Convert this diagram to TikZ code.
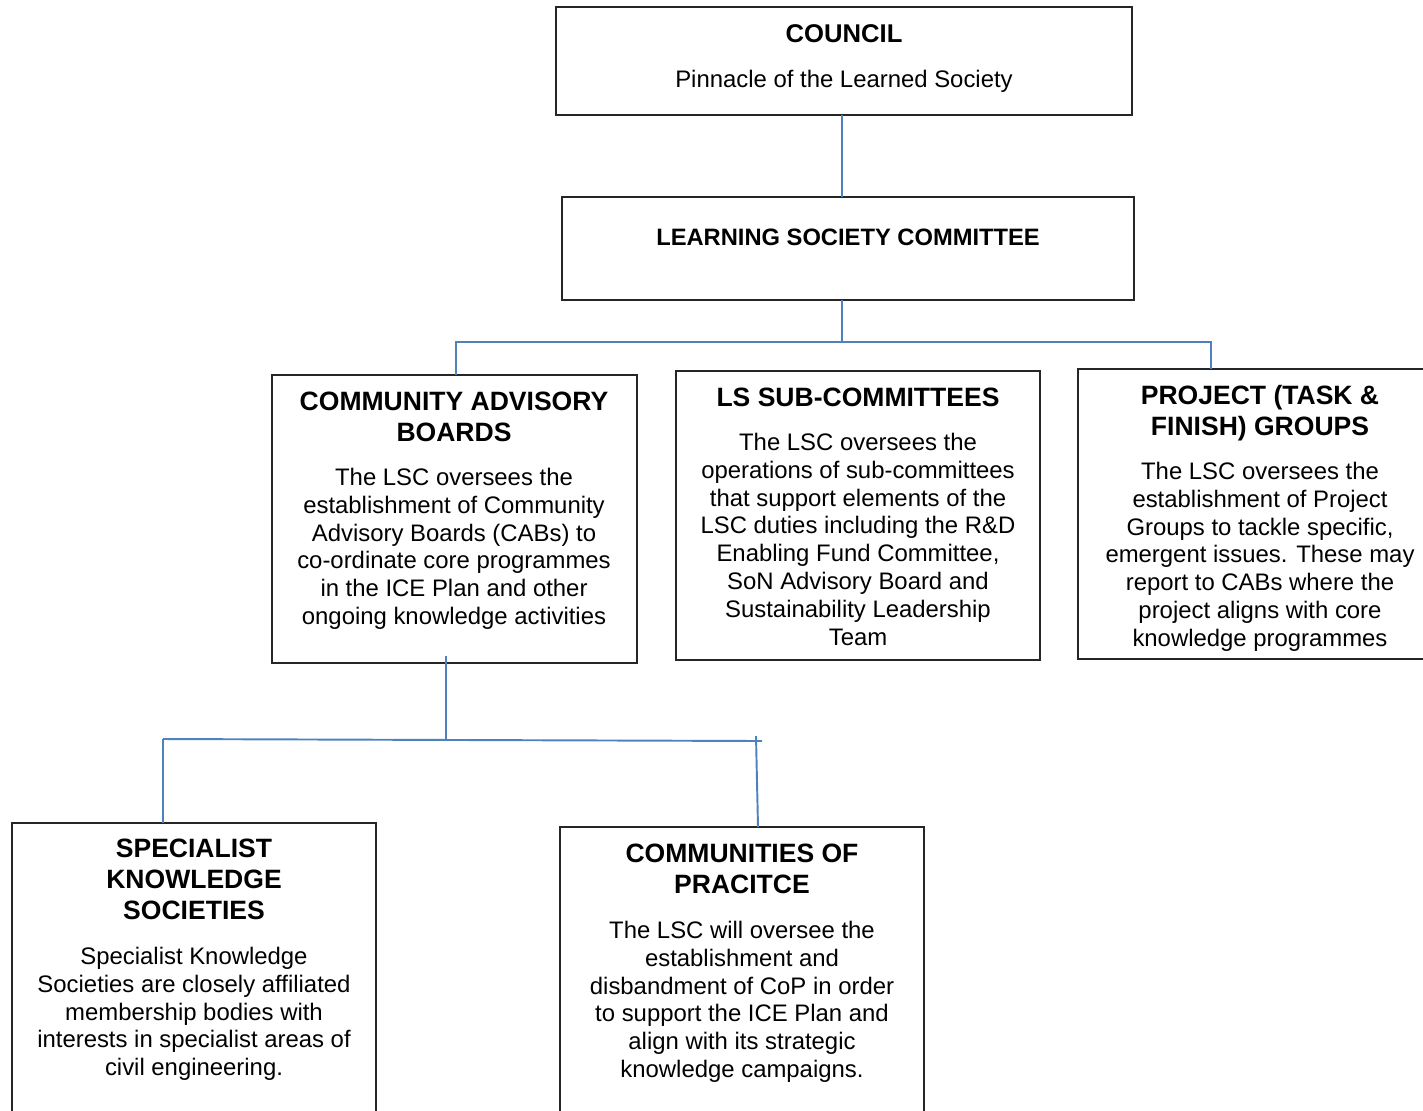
\documentclass[tikz,border=0pt]{standalone}
\usepackage{fontspec}
\setmainfont{Liberation Sans}
\usepackage{tikz}
\usetikzlibrary{positioning}

\begin{document}
\begin{tikzpicture}[x=0.02cm, y=-0.02cm,
  box/.style={draw=black!85, line width=0.8pt, outer sep=0pt, inner sep=0pt, anchor=north west},
  ttl/.style={anchor=north, inner sep=0pt, align=center, font=\fontsize{15.1}{17.6}\selectfont\bfseries},
  note/.style={anchor=north, inner sep=0pt, align=center, font=\fontsize{13.6}{15.8}\selectfont},
  link/.style={draw={rgb,255:red,79;green,129;blue,189}, line width=1.1pt}]
  \useasboundingbox (0,0) rectangle (1423,1110);
  % Top level
  \node[box, minimum width=11.52cm, minimum height=2.16cm] (council) at (556,7) {};
  \node[ttl, font=\fontsize{14.6}{17}\selectfont\bfseries] (counciltitle) at (844,24) {COUNCIL};
  \node[note] (councilnote) at (844,70) {Pinnacle of the Learned Society};
  \node[box, minimum width=11.44cm, minimum height=2.06cm] (lsc) at (562,197) {};
  \node[ttl, font=\fontsize{13.5}{16}\selectfont\bfseries] (lsctitle) at (848,229) {LEARNING SOCIETY COMMITTEE};
  % Second row
  \node[box, minimum width=7.30cm, minimum height=5.76cm] (cab) at (272,375) {};
  \node[ttl] (cabtitle) at (454,392) {COMMUNITY ADVISORY\\BOARDS};
  \node[note] (cabnote) at (454,468) {The LSC oversees the\\establishment of Community\\Advisory Boards (CABs) to\\co-ordinate core programmes\\in the ICE Plan and other\\ongoing knowledge activities};
  \node[box, minimum width=7.28cm, minimum height=5.78cm] (sub) at (676,371) {};
  \node[ttl] (subtitle) at (858,388) {LS SUB-COMMITTEES};
  \node[note] (subnote) at (858,433) {The LSC oversees the\\operations of sub-committees\\that support elements of the\\LSC duties including the R\&D\\Enabling Fund Committee,\\SoN Advisory Board and\\Sustainability Leadership\\Team};
  \node[box, minimum width=7.28cm, minimum height=5.80cm] (proj) at (1078,369) {};
  \node[ttl] (projtitle) at (1260,385) {PROJECT (TASK \&\\FINISH) GROUPS};
  \node[note] (projnote) at (1260,462) {The LSC oversees the\\establishment of Project\\Groups to tackle specific,\\emergent issues. These may\\report to CABs where the\\project aligns with core\\knowledge programmes};
  % Third row
  \node[box, minimum width=7.28cm, minimum height=5.94cm] (skb) at (12,823) {};
  \node[ttl] (skbtitle) at (194,839) {SPECIALIST\\KNOWLEDGE\\SOCIETIES};
  \node[note] (skbnote) at (194,947) {Specialist Knowledge\\Societies are closely affiliated\\membership bodies with\\interests in specialist areas of\\civil engineering.};
  \node[box, minimum width=7.28cm, minimum height=5.86cm] (cop) at (560,827) {};
  \node[ttl] (coptitle) at (742,844) {COMMUNITIES OF\\PRACITCE};
  \node[note] (copnote) at (742,921) {The LSC will oversee the\\establishment and\\disbandment of CoP in order\\to support the ICE Plan and\\align with its strategic\\knowledge campaigns.};
  % Connectors
  \coordinate (trunk) at (842,342);
  \coordinate (busL) at (456,342);
  \coordinate (busR) at (1211,342);
  \draw[link] (council.south -| trunk) -- (lsc.north -| trunk);
  \draw[link] (lsc.south -| trunk) -- (trunk);
  \draw[link] (cab.north -| busL) -- (busL) -- (busR) -- (proj.north -| busR);
  \coordinate (drop) at (446,656);
  \coordinate (lowL) at (163,739);
  \coordinate (lowM) at (446,740);
  \coordinate (lowR) at (762,741);
  \coordinate (lowRtop) at (756,736);
  \coordinate (lowRend) at (758,827);
  \draw[link] (drop) -- (lowM);
  \draw[link] (lowL) -- (lowR);
  \draw[link] (lowL) -- (skb.north -| lowL);
  \draw[link] (lowRtop) -- (lowRend);
\end{tikzpicture}
\end{document}
